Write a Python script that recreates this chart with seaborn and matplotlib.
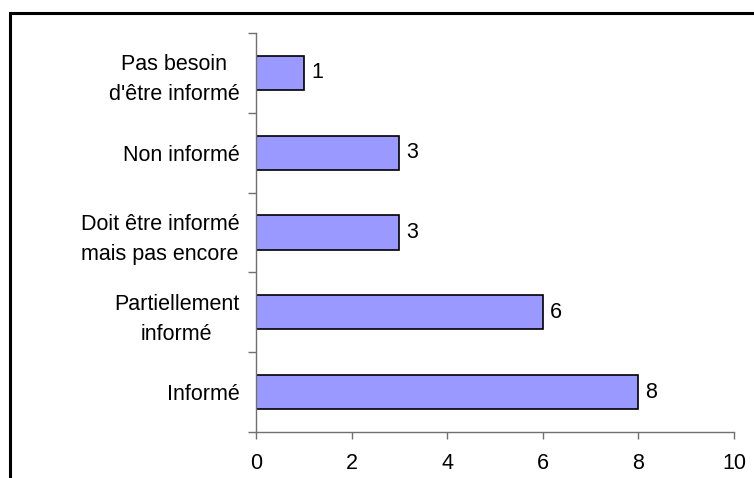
import matplotlib
matplotlib.use("Agg")
import matplotlib.pyplot as plt
import seaborn as sns
import pandas as pd
from matplotlib.patches import Rectangle

categories = ["Pas besoin\nd'être informé", "Non informé", "Doit être informé\nmais pas encore",
              "Partiellement\ninformé", "Informé"]
values = [1, 3, 3, 6, 8]
xticks = [0, 2, 4, 6, 8, 10]

sns.set_theme(style="white")
plt.rcParams['font.family'] = ['Liberation Sans', 'DejaVu Sans']

FS = 15.5
W, H = 754, 478
fig = plt.figure(figsize=(W / 100, H / 100), dpi=100)
fig.patch.set_facecolor("white")
ax = fig.add_axes([256 / W, 1 - 432 / H, (734 - 256) / W, (432 - 33) / H])

df = pd.DataFrame({"cat": categories, "val": values})
sns.barplot(data=df, y="cat", x="val", orient="h", color="#9999FF", saturation=1,
            edgecolor="black", linewidth=1.2, width=0.43, ax=ax)

ax.set_xlim(0, 10)
ax.set_ylim(len(categories) - 0.5, -0.5)
ax.set_xticks(xticks)
ax.set_xticklabels([str(t) for t in xticks], fontsize=FS, color="black")
ax.set_xlabel("")
ax.set_ylabel("")

# category ticks at boundaries, labels at centers
ax.set_yticks([i - 0.5 for i in range(len(categories) + 1)])
ax.set_yticklabels([])
ax.set_yticks(range(len(categories)), minor=True)
ax.set_yticklabels(categories, minor=True, fontsize=FS, color="black",
                   multialignment="center", linespacing=1.55)
ax.tick_params(axis="y", which="minor", length=0, pad=12)
ax.tick_params(axis="y", which="major", length=6, width=1, color="#707070", direction="out", left=True)
ax.tick_params(axis="x", which="major", length=5, width=1, color="#707070", direction="out",
               bottom=True, pad=10)

for s in ["top", "right"]:
    ax.spines[s].set_visible(False)
for s in ["left", "bottom"]:
    ax.spines[s].set_color("#707070")
    ax.spines[s].set_linewidth(1)

for i, v in enumerate(values):
    ax.text(v + 0.15, i, str(v), va="center", ha="left", fontsize=FS, color="black")

# outer border (top and left visible, extends past the image edge)
fig.patches.append(Rectangle((10 / W, -0.05), 1.1, 1 - 13 / H + 0.05, transform=fig.transFigure,
                             fill=False, edgecolor="black", linewidth=2.2, clip_on=False))

fig.savefig("out.png", dpi=100, facecolor="white")
